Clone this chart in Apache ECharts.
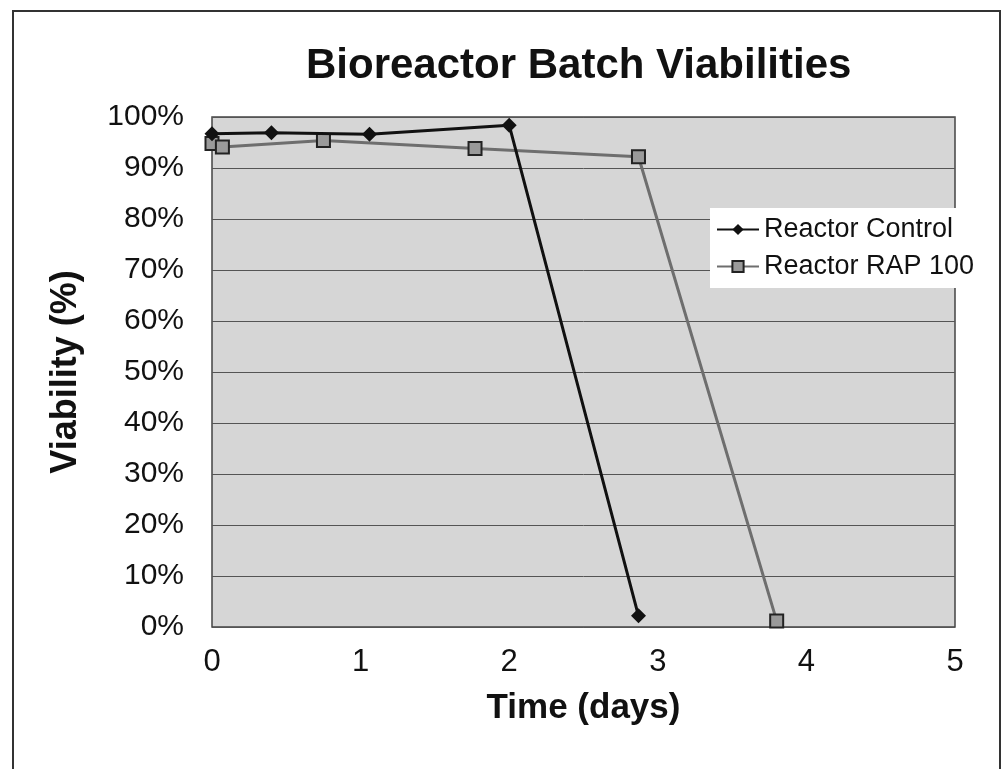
<!DOCTYPE html>
<html>
<head>
<meta charset="utf-8">
<script src="https://cdn.jsdelivr.net/npm/echarts@6/dist/echarts.min.js"></script>
<style>
  html, body { margin: 0; padding: 0; background: #fff; }
  #chart { width: 1002px; height: 769px; }
</style>
</head>
<body>
<div id="chart"></div>
<script>
// time points (days) and viability (%)
var controlTime = [0, 0.40, 1.06, 2.0, 2.87];
var controlViability = [96.7, 96.9, 96.6, 98.4, 2.2];
var rapTime = [0, 0.07, 0.75, 1.77, 2.87, 3.80];
var rapViability = [94.8, 94.1, 95.4, 93.8, 92.2, 1.2];
var seriesNames = ['Reactor Control', 'Reactor RAP 100'];

function pairs(xs, ys) {
    var out = [];
    for (var i = 0; i < xs.length; i++) {
        out.push([xs[i], ys[i]]);
    }
    return out;
}

var myChart = echarts.init(document.getElementById('chart'));
var font = "'Liberation Sans', Arial, sans-serif";

var option = {
    backgroundColor: '#fff',
    animation: false,
    textStyle: { fontFamily: font, color: '#111' },
    title: {
        text: 'Bioreactor Batch Viabilities',
        left: 301,
        top: 40,
        textStyle: { fontSize: 42, fontWeight: 'bold', color: '#111', fontFamily: font }
    },
    // outer frame of the chart
    graphic: [{
        type: 'rect',
        shape: { x: 13, y: 11, width: 987, height: 780 },
        style: { fill: 'none', stroke: '#333', lineWidth: 2 },
        z: -1
    }],
    grid: {
        left: 212,
        right: 47,
        top: 117,
        bottom: 142,
        show: true,
        backgroundColor: '#d6d6d6',
        borderColor: '#444',
        borderWidth: 1.5
    },
    legend: {
        data: seriesNames,
        orient: 'vertical',
        left: 710,
        top: 208,
        backgroundColor: '#fff',
        padding: [8, 20, 8, 6],
        itemWidth: 42,
        itemHeight: 14,
        itemGap: 10,
        textStyle: { fontSize: 27, color: '#111', fontFamily: font }
    },
    xAxis: {
        type: 'value',
        min: 0,
        max: 5,
        interval: 1,
        name: 'Time (days)',
        nameLocation: 'middle',
        nameGap: 64,
        nameTextStyle: { fontSize: 35, fontWeight: 'bold', color: '#111', fontFamily: font },
        axisLine: { show: false },
        axisTick: { show: false },
        splitLine: { show: false },
        axisLabel: { fontSize: 31, color: '#111', margin: 20, fontFamily: font }
    },
    yAxis: {
        type: 'value',
        min: 0,
        max: 100,
        interval: 10,
        name: 'Viability (%)',
        nameLocation: 'middle',
        nameGap: 128,
        nameTextStyle: { fontSize: 36, fontWeight: 'bold', color: '#111', fontFamily: font },
        axisLine: { show: false },
        axisTick: { show: false },
        axisLabel: { fontSize: 30, color: '#111', margin: 28, formatter: '{value}%', fontFamily: font },
        splitLine: { show: true, lineStyle: { color: '#555', width: 1 } }
    },
    series: [
        {
            name: seriesNames[0],
            type: 'line',
            data: pairs(controlTime, controlViability),
            symbol: 'diamond',
            symbolSize: 15,
            color: '#111',
            lineStyle: { color: '#111', width: 3 },
            itemStyle: { color: '#111' },
            z: 3
        },
        {
            name: seriesNames[1],
            type: 'line',
            data: pairs(rapTime, rapViability),
            symbol: 'rect',
            symbolSize: 13,
            color: '#8a8a8a',
            lineStyle: { color: '#6e6e6e', width: 3 },
            itemStyle: { color: '#9a9a9a', borderColor: '#222', borderWidth: 2 },
            z: 2
        }
    ]
};

if (option && typeof option === "object") {
    myChart.setOption(option, true);
}
</script>
</body>
</html>
